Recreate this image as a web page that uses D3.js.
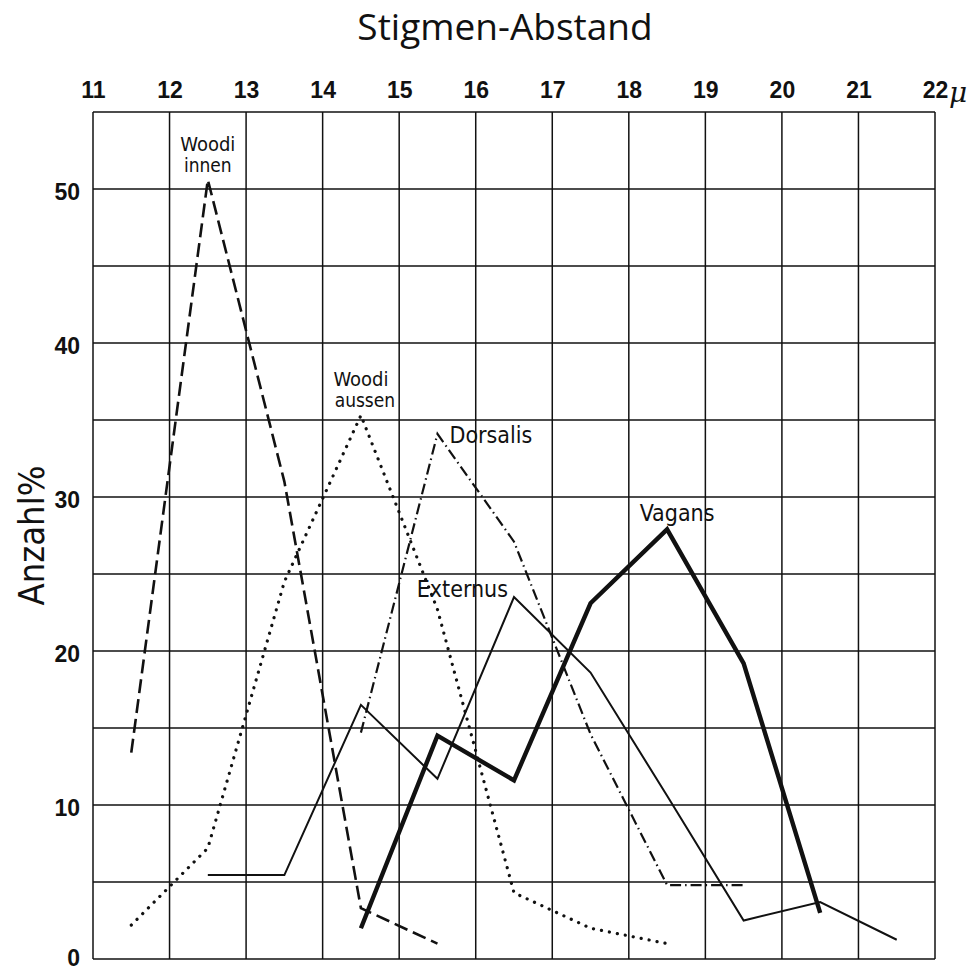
<!DOCTYPE html>
<html>
<head>
<meta charset="utf-8">
<script src="https://cdn.jsdelivr.net/npm/d3@7"></script>
<style>
  body { margin: 0; background: #fff; }
  svg { display: block; }
  .tick text { font-family: "Liberation Sans", Arial, sans-serif; font-weight: bold; font-size: 23px; fill: #111; }
  .lab { font-family: "DejaVu Sans Condensed", "DejaVu Sans", sans-serif; font-stretch: condensed; fill: #111; }
</style>
</head>
<body>
<svg width="975" height="970"></svg>
<script>
// Stigmen-Abstand in µ, Klassenmitten
const klassen = [11.5, 12.5, 13.5, 14.5, 15.5, 16.5, 17.5, 18.5, 19.5, 20.5, 21.5];

// Anzahl in % je Klasse (null = kein Wert)
const woodiInnen  = [13.4, 50.6, 31.0, 3.3, 1.0, null, null, null, null, null, null];
const woodiAussen = [2.2, 7.2, 24.5, 35.3, 22.7, 4.3, 2.0, 1.0, null, null, null];
const dorsalis    = [null, null, null, 14.7, 34.1, 27.1, 14.6, 4.8, 4.8, null, null];
const externus    = [null, 5.45, 5.45, 16.5, 11.7, 23.5, 18.6, 10.6, 2.5, 3.7, 1.25];
const vagans      = [null, null, null, 2.0, 14.5, 11.6, 23.1, 27.9, 19.2, 3.0, null];

const xTicks = [11, 12, 13, 14, 15, 16, 17, 18, 19, 20, 21, 22];
const yTicks = [0, 10, 20, 30, 40, 50];

const svg = d3.select("svg");

const x = d3.scaleLinear().domain([11, 22]).range([93, 935]);
const y = d3.scaleLinear().domain([0, 55]).range([959, 112]);

// grid
const grid = svg.append("g").attr("stroke", "#111").attr("stroke-width", 1.5);
grid.selectAll(".gx")
    .data(d3.range(11, 23))
    .enter().append("line")
    .attr("x1", d => x(d)).attr("x2", d => x(d))
    .attr("y1", y(0)).attr("y2", y(55));
grid.selectAll(".gy")
    .data(d3.range(0, 56, 5))
    .enter().append("line")
    .attr("x1", x(11)).attr("x2", x(22))
    .attr("y1", d => y(d)).attr("y2", d => y(d));

// axes (labels only)
const xAxis = svg.append("g")
    .attr("transform", `translate(0, ${y(55) - 11})`)
    .call(d3.axisTop(x).tickValues(xTicks).tickSize(0).tickFormat(d3.format("d")));
xAxis.select(".domain").remove();

const yAxis = svg.append("g")
    .attr("transform", `translate(${x(11) - 10}, 0)`)
    .call(d3.axisLeft(y).tickValues(yTicks).tickSize(0));
yAxis.select(".domain").remove();
yAxis.selectAll("text").attr("dy", d => d === 0 ? "0.3em" : "0.45em");

// µ after 22
svg.append("text")
    .attr("x", x(22) + 14)
    .attr("y", y(55) - 10)
    .attr("font-family", "DejaVu Serif, serif")
    .attr("font-style", "italic")
    .attr("font-size", 28)
    .attr("fill", "#111")
    .text("μ");

// title
svg.append("text")
    .attr("x", 505)
    .attr("y", 40)
    .attr("text-anchor", "middle")
    .attr("font-family", "Open Sans, sans-serif")
    .attr("font-size", 37)
    .attr("fill", "#111")
    .text("Stigmen-Abstand");

// y label
svg.append("text")
    .attr("class", "lab")
    .attr("transform", `translate(44, ${y(27.5)}) rotate(-90)`)
    .attr("text-anchor", "middle")
    .attr("font-size", 36)
    .text("Anzahl%");

// curves
const line = d3.line()
    .defined(d => d[1] !== null)
    .x(d => x(d[0]))
    .y(d => y(d[1]));

const series = [
    { values: woodiInnen,  width: 2.6, dash: "14,6", cap: "butt" },
    { values: woodiAussen, width: 3.2, dash: "0.1,8", cap: "round" },
    { values: dorsalis,    width: 2.2, dash: "11,4,1.5,4", cap: "butt" },
    { values: externus,    width: 2,   dash: null, cap: "butt" },
    { values: vagans,      width: 4.4, dash: null, cap: "butt" }
];

svg.selectAll(".curve")
    .data(series)
    .enter().append("path")
    .attr("class", "curve")
    .attr("d", s => line(klassen.map((k, i) => [k, s.values[i]])))
    .attr("fill", "none")
    .attr("stroke", "#111")
    .attr("stroke-width", s => s.width)
    .attr("stroke-dasharray", s => s.dash)
    .attr("stroke-linecap", s => s.cap)
    .attr("stroke-linejoin", "miter");

// curve labels
function label(txt, kx, vy, dx, dy, anchor, size) {
    svg.append("text")
        .attr("class", "lab")
        .attr("x", x(kx) + dx)
        .attr("y", y(vy) + dy)
        .attr("text-anchor", anchor)
        .attr("font-size", size)
        .text(txt);
}
label("Woodi", 12.5, 50.6, 0, -29, "middle", 20);
label("innen", 12.5, 50.6, 0, -8, "middle", 19);
label("Woodi", 14.5, 35.3, 0, -29, "middle", 20);
label("aussen", 14.5, 35.3, 4, -8, "middle", 19);
label("Dorsalis", 15.5, 34.1, 12, 9, "start", 23);
label("Externus", 16.5, 23.5, -6, 0, "end", 23);
label("Vagans", 18.5, 27.9, 10, -8, "middle", 23);
</script>
</body>
</html>
